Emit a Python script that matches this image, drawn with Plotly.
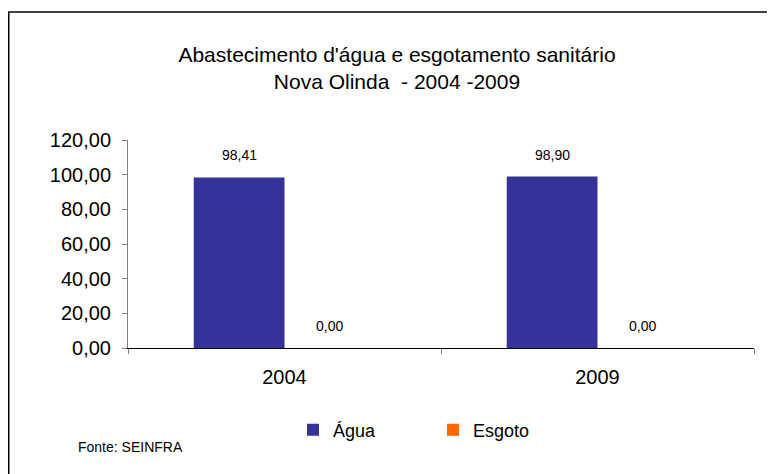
import plotly.graph_objects as go

categories = ["2004", "2009"]
agua = [98.41, 98.90]
esgoto = [0.00, 0.00]
y_ticks = [0, 20, 40, 60, 80, 100, 120]

FONT = "Liberation Sans, Arial, sans-serif"

# page body adds an 8px margin; build the figure 8px smaller and shift coordinates
OFF = 8
W, H = 775 - OFF, 474 - OFF
L = 128 - OFF                 # y axis at ref x=128
R = W - (754 - OFF)           # plot right at ref x=754
T = 140 - OFF                 # y=120 at ref y=140
B = H - (348 - OFF)           # x axis at ref y=348
pw, ph = W - L - R, H - T - B
BARGAP = 0.42
bar_px = pw / len(categories) * (1 - BARGAP) / 2   # width of one bar in px


def px(x_ref):
    return (x_ref - OFF - L) / pw


def py(y_ref):
    return (H - B - (y_ref - OFF)) / ph


fig = go.Figure()
fig.add_trace(go.Bar(
    name="Água", x=categories, y=agua,
    marker=dict(color="#333399", line=dict(width=0)),
))
fig.add_trace(go.Bar(
    name="Esgoto", x=categories, y=esgoto,
    marker=dict(color="#FF6600", line=dict(width=0)),
))

# value labels above each bar (x given as category index)
annotations = []
for series, shift in ((agua, -bar_px / 2), (esgoto, bar_px / 2)):
    for i, val in enumerate(series):
        annotations.append(dict(
            x=i, y=val, xref="x", yref="y",
            text=f"{val:.2f}".replace(".", ","),
            showarrow=False, xshift=shift, yshift=22,
            xanchor="center", yanchor="middle",
            font=dict(size=14, family=FONT, color="#000000"),
        ))

annotations.append(dict(
    text="Fonte: SEINFRA", xref="paper", yref="paper",
    x=px(76), y=py(447), xanchor="left", yanchor="middle",
    showarrow=False, font=dict(size=14, family=FONT, color="#000000"),
))

fig.update_layout(
    width=W, height=H,
    margin=dict(l=L, r=R, t=T, b=B, pad=0),
    paper_bgcolor="white", plot_bgcolor="white",
    separators=",.",
    font=dict(family=FONT, color="#000000"),
    barmode="group", bargap=BARGAP, bargroupgap=0,
    title=dict(
        text="Abastecimento d'água e esgotamento sanitário<br>Nova Olinda  - 2004 -2009",
        x=(397 - OFF) / W, xanchor="center", xref="container",
        y=1 - (62 - OFF) / H, yanchor="middle", yref="container",
        font=dict(size=21, family=FONT, color="#000000"),
    ),
    xaxis=dict(
        type="category", categoryorder="array", categoryarray=categories,
        range=[-0.5, len(categories) - 0.5], autorange=False,
        showgrid=False, zeroline=False,
        showline=True, linecolor="#000000", linewidth=1,
        ticks="outside", tickson="boundaries", ticklen=5, tickcolor="#808080",
        tickfont=dict(size=20, family=FONT, color="#000000"),
        tickangle=0, ticklabelstandoff=11,
    ),
    yaxis=dict(
        range=[0, 120], autorange=False, tickvals=y_ticks, tickformat=".2f",
        showgrid=False, zeroline=False,
        showline=True, linecolor="#808080", linewidth=1,
        ticks="outside", ticklen=5, tickcolor="#808080",
        tickfont=dict(size=20, family=FONT, color="#000000"),
        ticklabelstandoff=7,
    ),
    showlegend=True,
    legend=dict(
        orientation="h", x=px(293), xanchor="left", y=py(430), yanchor="middle",
        font=dict(size=18, family=FONT, color="#000000"),
        entrywidth=95, entrywidthmode="pixels",
        bgcolor="rgba(0,0,0,0)", traceorder="normal",
    ),
    shapes=[dict(
        type="rect", xref="paper", yref="paper",
        x0=(0.75 - L) / pw, x1=px(769), y0=py(490), y1=py(12),
        line=dict(color="#000000", width=1.5), fillcolor="rgba(0,0,0,0)", layer="below",
    )],
    annotations=annotations,
)

fig.write_html("out.html")
